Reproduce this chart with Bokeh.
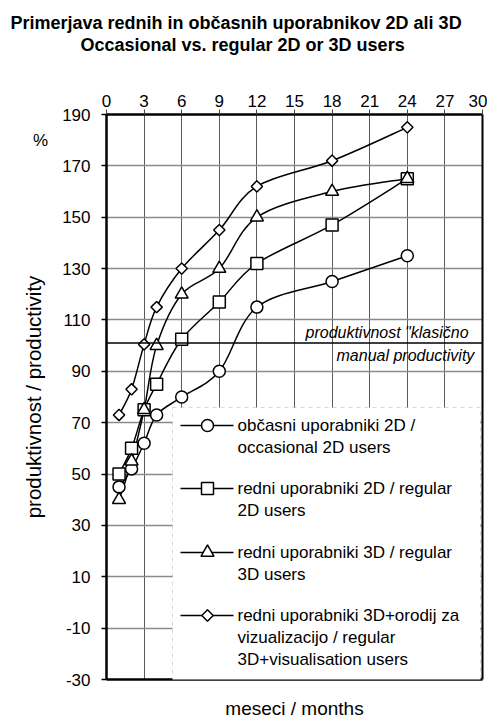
import numpy as np
from bokeh.plotting import figure
from bokeh.models import Range1d, LinearAxis, FixedTicker, Span, BoxAnnotation, Label, Title
from bokeh.core.properties import value
from bokeh.embed import file_html
from bokeh.resources import INLINE

# ---------------- data ----------------
months = [1, 2, 3, 4, 6, 9, 12, 18, 24]
occasional_2d = [45, 52, 62, 73, 80, 90, 115, 125, 135]
regular_2d = [50, 60, 75, 85, 102.5, 117, 132, 147, 165]
regular_3d = [40, 55, 75, 100, 120, 130, 150, 160, 165]
regular_3d_vis = [73, 83, 100.5, 115, 130, 145, 162, 172, 185]
classic_productivity = 101

x_ticks = [0, 3, 6, 9, 12, 15, 18, 21, 24, 27, 30]
y_ticks = [-30, -10, 10, 30, 50, 70, 90, 110, 130, 150, 170, 190]
y_tick_labels = ["-30", "-10", "10", "30", "50", "70", "90", "110", "130", "150", "170", "190"]

title_line1 = "Primerjava rednih in občasnih uporabnikov 2D ali 3D"
title_line2 = "Occasional vs. regular 2D or 3D users"
x_label = "meseci / months"
y_label = "produktivnost / productivity"
y_unit = "%"
classic_label_1 = "produktivnost \"klasično"
classic_label_2 = "manual productivity"

legend_texts = [
    ["občasni uporabniki 2D /", "occasional 2D users"],
    ["redni uporabniki 2D / regular", "2D users"],
    ["redni uporabniki 3D / regular", "3D users"],
    ["redni uporabniki 3D+orodij za", "vizualizacijo / regular", "3D+visualisation users"],
]

FONT = "Liberation Sans"

# ---------------- layout helpers (page pixels -> data) ----------------
X0, X1, Y0, Y1 = 0, 30, -30, 190
FL, FT, FW, FH = 106, 114, 376, 565


def dx(px):
    return X0 + (px - FL) / FW * (X1 - X0)


def dy(py):
    return Y1 - (py - FT) / FH * (Y1 - Y0)


def smooth(xs, ys, t=1.0 / 6.0):
    x = np.asarray(xs, float)
    y = np.asarray(ys, float)
    n = len(x)
    xp = np.concatenate([[x[0]], x, [x[-1]]])
    yp = np.concatenate([[y[0]], y, [y[-1]]])
    return dict(
        x0=x[:-1], y0=y[:-1], x1=x[1:], y1=y[1:],
        cx0=x[:-1] + (xp[2:n + 1] - xp[0:n - 1]) * t,
        cy0=y[:-1] + (yp[2:n + 1] - yp[0:n - 1]) * t,
        cx1=x[1:] - (xp[3:n + 2] - xp[1:n]) * t,
        cy1=y[1:] - (yp[3:n + 2] - yp[1:n]) * t,
    )


p = figure(
    frame_width=FW, frame_height=FH,
    min_border_left=FL, min_border_top=FT, min_border_right=5, min_border_bottom=40,
    x_range=Range1d(X0, X1), y_range=Range1d(Y0, Y1),
    x_axis_location="above",
    output_backend="svg", toolbar_location=None,
    background_fill_color="white", border_fill_color="white",
)
p.outline_line_color = None

# top axis
xa = p.above[0]
xa.ticker = FixedTicker(ticks=x_ticks)
xa.major_tick_out = 5
xa.major_tick_in = 0
xa.minor_tick_out = 0
xa.minor_tick_in = 0
xa.major_tick_line_color = "#444444"
xa.major_tick_line_width = 1
xa.axis_line_width = 2.5
xa.axis_line_color = "black"
xa.major_label_standoff = 3
xa.major_label_text_font = FONT
xa.major_label_text_font_size = "17px"
xa.major_label_text_color = "black"

# left axis
ya = p.left[0]
ya.ticker = FixedTicker(ticks=y_ticks)
ya.major_label_overrides = {t: s for t, s in zip(y_ticks, y_tick_labels)}
ya.major_tick_out = 5
ya.major_tick_in = 0
ya.minor_tick_out = 0
ya.minor_tick_in = 0
ya.major_tick_line_color = "black"
ya.major_tick_line_width = 1.5
ya.axis_line_width = 2.5
ya.axis_line_color = "black"
ya.major_label_standoff = 11
ya.major_label_text_font = FONT
ya.major_label_text_font_size = "17px"
ya.major_label_text_color = "black"
ya.axis_label = y_label
ya.axis_label_text_font = FONT
ya.axis_label_text_font_size = "20.5px"
ya.axis_label_text_font_style = "normal"
ya.axis_label_text_color = "black"
ya.axis_label_standoff = 14

# grids
p.xgrid.grid_line_color = "#5a5a5a"
p.xgrid.grid_line_width = 1
p.ygrid.grid_line_color = "#8a8a8a"
p.ygrid.grid_line_width = 1.5

# bottom axis (frame line + label)
xb = LinearAxis(ticker=FixedTicker(ticks=[]), major_tick_out=0, major_tick_in=0,
                minor_tick_out=0, minor_tick_in=0, major_label_standoff=0,
                axis_line_width=2.5, axis_line_color="black",
                axis_label=x_label, axis_label_text_font=FONT,
                axis_label_text_font_size="19px", axis_label_text_font_style="normal",
                axis_label_text_color="black", axis_label_standoff=18)
p.add_layout(xb, "below")

# right axis (frame line)
yr = LinearAxis(ticker=FixedTicker(ticks=[]), major_tick_out=0, major_tick_in=0,
                minor_tick_out=0, minor_tick_in=0, major_label_standoff=0,
                axis_line_width=2, axis_line_color="black")
p.add_layout(yr, "right")

# title: two lines stacked above the top axis, with a spacer below them
spacer = Title(text=" ", text_font_size="2px", standoff=33)
t2 = Title(text=title_line2, align="left", offset=-26, standoff=0,
           text_font=FONT, text_font_size="18px", text_font_style="bold", text_color="black")
t1 = Title(text=title_line1, align="left", offset=-96, standoff=0,
           text_font=FONT, text_font_size="18px", text_font_style="bold", text_color="black")
p.add_layout(spacer, "above")
p.add_layout(t2, "above")
p.add_layout(t1, "above")

# "%" unit label beside the value axis
p.add_layout(Label(x=dx(40), y=dy(140), text=y_unit, text_font=FONT,
                   text_font_size="17px", text_baseline="middle", text_align="center",
                   text_color="black"), "left")

# reference line
p.add_layout(Span(location=classic_productivity, dimension="width",
                  line_color="black", line_width=1.5))
p.add_layout(Label(x=dx(305), y=dy(332), text=classic_label_1, text_font=FONT,
                   text_font_size="16px", text_font_style="italic",
                   text_baseline="middle", text_align="left", text_color="black"))
p.add_layout(Label(x=dx(336), y=dy(355), text=classic_label_2, text_font=FONT,
                   text_font_size="16px", text_font_style="italic",
                   text_baseline="middle", text_align="left", text_color="black"))

series = [
    (occasional_2d, "circle", 12, 0.0),
    (regular_2d, "square", 12, 0.0),
    (regular_3d, "triangle", 13, 0.0),
    (regular_3d_vis, "square", 8, np.pi / 4),
]

for vals, marker, size, ang in series:
    p.bezier(line_color="black", line_width=1.5, **smooth(months, vals))
for vals, marker, size, ang in series:
    p.scatter(months, vals, marker=marker, size=size, angle=ang,
              fill_color="white", line_color="black", line_width=1.5)

# legend (drawn inside the plot area, over the frame)
box = BoxAnnotation(left=dx(172), right=dx(480), top=dy(407), bottom=dy(680),
                    fill_color="white", fill_alpha=1.0,
                    line_color="#808080", line_width=1, line_dash="4 4",
                    level="annotation")
p.add_layout(box)

row_y = [425, 488, 552, 615]
pitch = 22
lx, ly, lt = [], [], []
for (vals, marker, size, ang), py, lines in zip(series, row_y, legend_texts):
    p.segment(x0=[dx(180)], y0=[dy(py)], x1=[dx(233)], y1=[dy(py)],
              line_color="black", line_width=1.5, level="overlay")
    p.scatter([dx(207)], [dy(py)], marker=marker, size=size, angle=ang,
              fill_color="white", line_color="black", line_width=1.5, level="overlay")
    for k, s in enumerate(lines):
        lx.append(dx(237))
        ly.append(dy(py + k * pitch))
        lt.append(s)
p.text(x=lx, y=ly, text=lt, text_font=value(FONT), text_font_size="17px",
       text_baseline="middle", text_align="left", text_color="black", level="overlay")

open("out.html", "w").write(file_html(p, INLINE))
